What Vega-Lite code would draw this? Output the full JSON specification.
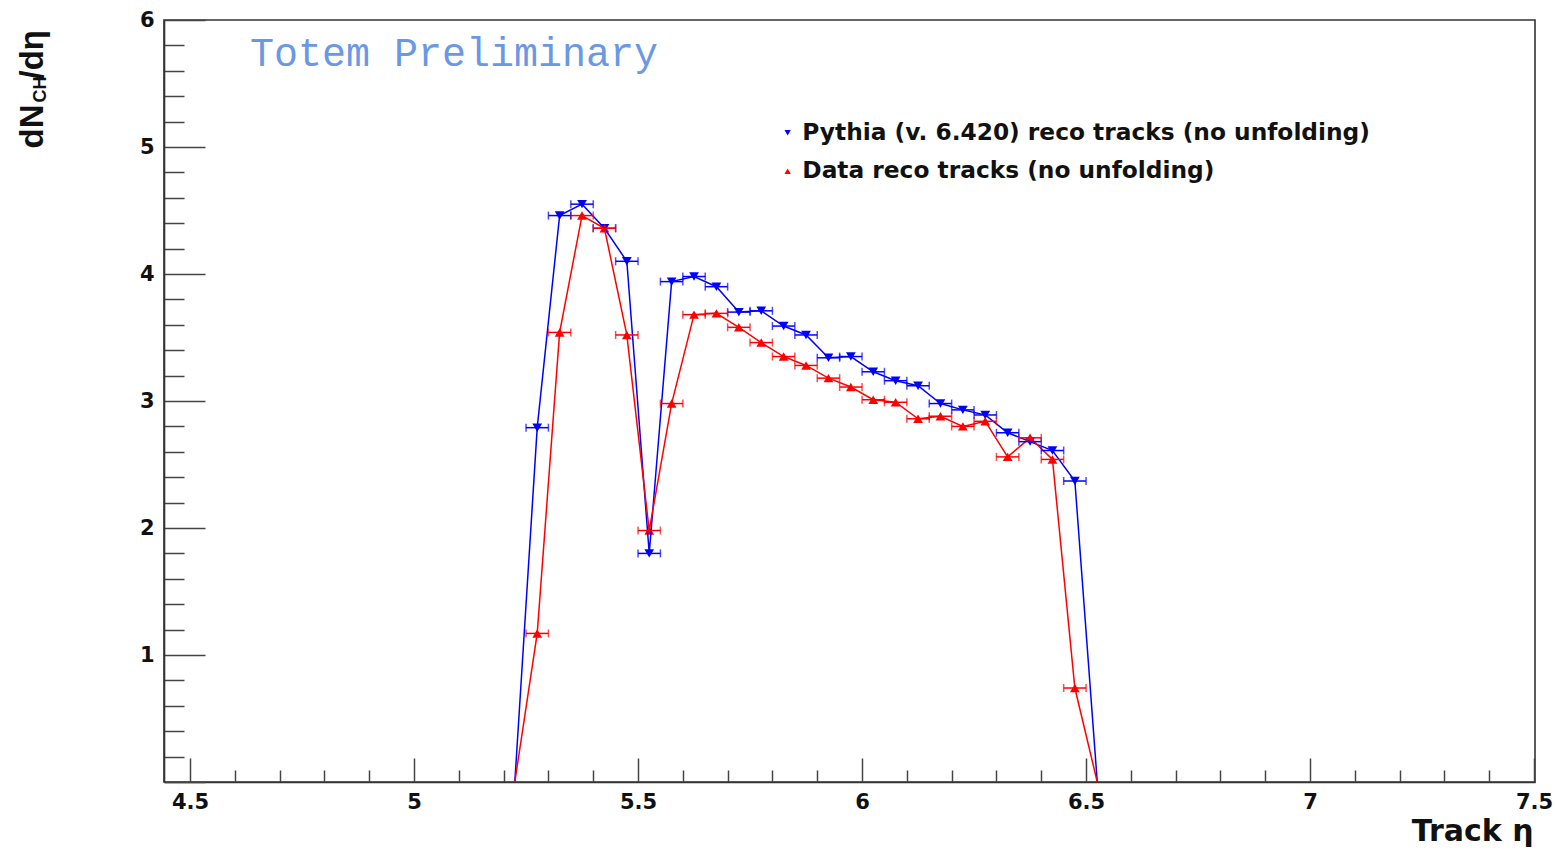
{
  "$schema": "https://vega.github.io/schema/vega-lite/v6.json",
  "width": 1371,
  "height": 762,
  "autosize": "none",
  "padding": {"left": 164, "top": 20, "right": 20, "bottom": 73},
  "background": "white",
  "config": {
    "view": {"stroke": "#333333", "strokeWidth": 1.6},
    "font": "DejaVu Sans",
    "legend": {
      "labelFont": "DejaVu Sans",
      "labelFontWeight": "bold",
      "labelFontSize": 23.3,
      "labelColor": "#111111",
      "labelLimit": 900,
      "labelOffset": 3,
      "rowPadding": 14.5,
      "padding": 0,
      "symbolSize": 40,
      "symbolStrokeWidth": 0
    }
  },
  "title": {
    "text": "Totem Preliminary",
    "anchor": "start",
    "frame": "group",
    "orient": "top",
    "baseline": "alphabetic",
    "offset": -97,
    "dx": 86,
    "font": "Liberation Mono",
    "fontSize": 40,
    "fontWeight": "normal",
    "color": "#6a98e4"
  },
  "data": {
    "values": [
      {"series": "Pythia (v. 6.420) reco tracks (no unfolding)", "eta": 5.225, "lo": 5.2, "hi": 5.25, "v": 0},
      {"series": "Pythia (v. 6.420) reco tracks (no unfolding)", "eta": 5.275, "lo": 5.25, "hi": 5.3, "v": 2.79},
      {"series": "Pythia (v. 6.420) reco tracks (no unfolding)", "eta": 5.325, "lo": 5.3, "hi": 5.35, "v": 4.46},
      {"series": "Pythia (v. 6.420) reco tracks (no unfolding)", "eta": 5.375, "lo": 5.35, "hi": 5.4, "v": 4.55},
      {"series": "Pythia (v. 6.420) reco tracks (no unfolding)", "eta": 5.425, "lo": 5.4, "hi": 5.45, "v": 4.36},
      {"series": "Pythia (v. 6.420) reco tracks (no unfolding)", "eta": 5.475, "lo": 5.45, "hi": 5.5, "v": 4.10},
      {"series": "Pythia (v. 6.420) reco tracks (no unfolding)", "eta": 5.525, "lo": 5.5, "hi": 5.55, "v": 1.80},
      {"series": "Pythia (v. 6.420) reco tracks (no unfolding)", "eta": 5.575, "lo": 5.55, "hi": 5.6, "v": 3.94},
      {"series": "Pythia (v. 6.420) reco tracks (no unfolding)", "eta": 5.625, "lo": 5.6, "hi": 5.65, "v": 3.98},
      {"series": "Pythia (v. 6.420) reco tracks (no unfolding)", "eta": 5.675, "lo": 5.65, "hi": 5.7, "v": 3.90},
      {"series": "Pythia (v. 6.420) reco tracks (no unfolding)", "eta": 5.725, "lo": 5.7, "hi": 5.75, "v": 3.70},
      {"series": "Pythia (v. 6.420) reco tracks (no unfolding)", "eta": 5.775, "lo": 5.75, "hi": 5.8, "v": 3.71},
      {"series": "Pythia (v. 6.420) reco tracks (no unfolding)", "eta": 5.825, "lo": 5.8, "hi": 5.85, "v": 3.59},
      {"series": "Pythia (v. 6.420) reco tracks (no unfolding)", "eta": 5.875, "lo": 5.85, "hi": 5.9, "v": 3.52},
      {"series": "Pythia (v. 6.420) reco tracks (no unfolding)", "eta": 5.925, "lo": 5.9, "hi": 5.95, "v": 3.34},
      {"series": "Pythia (v. 6.420) reco tracks (no unfolding)", "eta": 5.975, "lo": 5.95, "hi": 6.0, "v": 3.35},
      {"series": "Pythia (v. 6.420) reco tracks (no unfolding)", "eta": 6.025, "lo": 6.0, "hi": 6.05, "v": 3.23},
      {"series": "Pythia (v. 6.420) reco tracks (no unfolding)", "eta": 6.075, "lo": 6.05, "hi": 6.1, "v": 3.16},
      {"series": "Pythia (v. 6.420) reco tracks (no unfolding)", "eta": 6.125, "lo": 6.1, "hi": 6.15, "v": 3.12},
      {"series": "Pythia (v. 6.420) reco tracks (no unfolding)", "eta": 6.175, "lo": 6.15, "hi": 6.2, "v": 2.98},
      {"series": "Pythia (v. 6.420) reco tracks (no unfolding)", "eta": 6.225, "lo": 6.2, "hi": 6.25, "v": 2.93},
      {"series": "Pythia (v. 6.420) reco tracks (no unfolding)", "eta": 6.275, "lo": 6.25, "hi": 6.3, "v": 2.89},
      {"series": "Pythia (v. 6.420) reco tracks (no unfolding)", "eta": 6.325, "lo": 6.3, "hi": 6.35, "v": 2.75},
      {"series": "Pythia (v. 6.420) reco tracks (no unfolding)", "eta": 6.375, "lo": 6.35, "hi": 6.4, "v": 2.68},
      {"series": "Pythia (v. 6.420) reco tracks (no unfolding)", "eta": 6.425, "lo": 6.4, "hi": 6.45, "v": 2.61},
      {"series": "Pythia (v. 6.420) reco tracks (no unfolding)", "eta": 6.475, "lo": 6.45, "hi": 6.5, "v": 2.37},
      {"series": "Pythia (v. 6.420) reco tracks (no unfolding)", "eta": 6.525, "lo": 6.5, "hi": 6.55, "v": 0},
      {"series": "Data reco tracks (no unfolding)", "eta": 5.225, "lo": 5.2, "hi": 5.25, "v": 0},
      {"series": "Data reco tracks (no unfolding)", "eta": 5.275, "lo": 5.25, "hi": 5.3, "v": 1.17},
      {"series": "Data reco tracks (no unfolding)", "eta": 5.325, "lo": 5.3, "hi": 5.35, "v": 3.54},
      {"series": "Data reco tracks (no unfolding)", "eta": 5.375, "lo": 5.35, "hi": 5.4, "v": 4.46},
      {"series": "Data reco tracks (no unfolding)", "eta": 5.425, "lo": 5.4, "hi": 5.45, "v": 4.36},
      {"series": "Data reco tracks (no unfolding)", "eta": 5.475, "lo": 5.45, "hi": 5.5, "v": 3.52},
      {"series": "Data reco tracks (no unfolding)", "eta": 5.525, "lo": 5.5, "hi": 5.55, "v": 1.98},
      {"series": "Data reco tracks (no unfolding)", "eta": 5.575, "lo": 5.55, "hi": 5.6, "v": 2.98},
      {"series": "Data reco tracks (no unfolding)", "eta": 5.625, "lo": 5.6, "hi": 5.65, "v": 3.68},
      {"series": "Data reco tracks (no unfolding)", "eta": 5.675, "lo": 5.65, "hi": 5.7, "v": 3.69},
      {"series": "Data reco tracks (no unfolding)", "eta": 5.725, "lo": 5.7, "hi": 5.75, "v": 3.58},
      {"series": "Data reco tracks (no unfolding)", "eta": 5.775, "lo": 5.75, "hi": 5.8, "v": 3.46},
      {"series": "Data reco tracks (no unfolding)", "eta": 5.825, "lo": 5.8, "hi": 5.85, "v": 3.35},
      {"series": "Data reco tracks (no unfolding)", "eta": 5.875, "lo": 5.85, "hi": 5.9, "v": 3.28},
      {"series": "Data reco tracks (no unfolding)", "eta": 5.925, "lo": 5.9, "hi": 5.95, "v": 3.18},
      {"series": "Data reco tracks (no unfolding)", "eta": 5.975, "lo": 5.95, "hi": 6.0, "v": 3.11},
      {"series": "Data reco tracks (no unfolding)", "eta": 6.025, "lo": 6.0, "hi": 6.05, "v": 3.01},
      {"series": "Data reco tracks (no unfolding)", "eta": 6.075, "lo": 6.05, "hi": 6.1, "v": 2.99},
      {"series": "Data reco tracks (no unfolding)", "eta": 6.125, "lo": 6.1, "hi": 6.15, "v": 2.86},
      {"series": "Data reco tracks (no unfolding)", "eta": 6.175, "lo": 6.15, "hi": 6.2, "v": 2.88},
      {"series": "Data reco tracks (no unfolding)", "eta": 6.225, "lo": 6.2, "hi": 6.25, "v": 2.80},
      {"series": "Data reco tracks (no unfolding)", "eta": 6.275, "lo": 6.25, "hi": 6.3, "v": 2.84},
      {"series": "Data reco tracks (no unfolding)", "eta": 6.325, "lo": 6.3, "hi": 6.35, "v": 2.56},
      {"series": "Data reco tracks (no unfolding)", "eta": 6.375, "lo": 6.35, "hi": 6.4, "v": 2.71},
      {"series": "Data reco tracks (no unfolding)", "eta": 6.425, "lo": 6.4, "hi": 6.45, "v": 2.54},
      {"series": "Data reco tracks (no unfolding)", "eta": 6.475, "lo": 6.45, "hi": 6.5, "v": 0.74},
      {"series": "Data reco tracks (no unfolding)", "eta": 6.525, "lo": 6.5, "hi": 6.55, "v": 0}
    ]
  },
  "resolve": {"axis": {"x": "independent", "y": "independent"}},
  "layer": [
    {
      "transform": [{"filter": "datum.v > 0"}],
      "mark": {"type": "point", "filled": true, "size": 95, "opacity": 1},
      "encoding": {
        "x": {"field": "eta", "type": "quantitative", "axis": null},
        "y": {"field": "v", "type": "quantitative", "axis": null},
        "color": {
          "field": "series", "type": "nominal",
          "scale": {"domain": ["Pythia (v. 6.420) reco tracks (no unfolding)", "Data reco tracks (no unfolding)"], "range": ["#0000ff", "#ff0000"]},
          "legend": {"orient": "none", "legendX": 612, "legendY": 101, "title": null}
        },
        "shape": {
          "field": "series", "type": "nominal",
          "scale": {"domain": ["Pythia (v. 6.420) reco tracks (no unfolding)", "Data reco tracks (no unfolding)"], "range": ["triangle-down", "triangle-up"]},
          "legend": {"orient": "none", "legendX": 612, "legendY": 101, "title": null}
        }
      }
    },
    {
      "mark": {"type": "line", "strokeWidth": 1.5},
      "encoding": {
        "x": {
          "field": "eta", "type": "quantitative",
          "scale": {"domain": [4.442, 7.502], "nice": false, "zero": false},
          "axis": {
            "values": [4.5, 4.6, 4.7, 4.8, 4.9, 5.0, 5.1, 5.2, 5.3, 5.4, 5.5, 5.6, 5.7, 5.8, 5.9, 6.0, 6.1, 6.2, 6.3, 6.4, 6.5, 6.6, 6.7, 6.8, 6.9, 7.0, 7.1, 7.2, 7.3, 7.4, 7.5],
            "labelExpr": "(datum.value * 2) % 1 == 0 ? '' + datum.value : ''",
            "tickSize": {"condition": {"test": "(datum.value * 2) % 1 == 0", "value": -24}, "value": -12},
            "tickColor": "#444444",
            "tickWidth": 1.5,
            "domainColor": "#333333",
            "domainWidth": 1.6,
            "grid": false,
            "labelFont": "DejaVu Sans",
            "labelFontWeight": "bold",
            "labelFontSize": 21,
            "labelColor": "#111111",
            "labelBaseline": "top",
            "labelPadding": 33,
            "labelFlush": false,
            "labelOverlap": false,
            "title": "Track η",
            "titleFont": "DejaVu Sans",
            "titleFontWeight": "bold",
            "titleFontSize": 30,
            "titleColor": "#111111",
            "titleAlign": "right",
            "titleAnchor": null,
            "titleBaseline": "alphabetic",
            "titleX": 1369,
            "titleY": 58
          }
        },
        "y": {
          "field": "v", "type": "quantitative",
          "scale": {"domain": [0, 6], "nice": false},
          "axis": {
            "orient": "left",
            "values": [0, 0.2, 0.4, 0.6, 0.8, 1, 1.2, 1.4, 1.6, 1.8, 2, 2.2, 2.4, 2.6, 2.8, 3, 3.2, 3.4, 3.6, 3.8, 4, 4.2, 4.4, 4.6, 4.8, 5, 5.2, 5.4, 5.6, 5.8, 6],
            "labelExpr": "datum.value % 1 == 0 && datum.value > 0 ? '' + datum.value : ''",
            "tickSize": {"condition": {"test": "datum.value % 1 == 0", "value": -41}, "value": -20},
            "tickColor": "#444444",
            "tickWidth": 1.5,
            "domainColor": "#333333",
            "domainWidth": 1.6,
            "grid": false,
            "labelFont": "DejaVu Sans",
            "labelFontWeight": "bold",
            "labelFontSize": 21,
            "labelColor": "#111111",
            "labelPadding": 51,
            "labelFlush": false,
            "labelOverlap": false,
            "title": "dN",
            "titleFont": "Liberation Sans",
            "titleFontWeight": "bold",
            "titleFontSize": 33,
            "titleColor": "#111111",
            "titleAngle": 270,
            "titleAlign": "left",
            "titleAnchor": null,
            "titleBaseline": "alphabetic",
            "titleX": -122,
            "titleY": 128
          }
        },
        "stroke": {
          "field": "series", "type": "nominal",
          "scale": {"domain": ["Pythia (v. 6.420) reco tracks (no unfolding)", "Data reco tracks (no unfolding)"], "range": ["#0000ff", "#ff0000"]},
          "legend": null
        }
      }
    },
    {
      "transform": [{"filter": "datum.v > 0"}],
      "mark": {"type": "rule", "strokeWidth": 1.5},
      "encoding": {
        "x": {"field": "lo", "type": "quantitative", "axis": null},
        "x2": {"field": "hi"},
        "y": {
          "field": "v", "type": "quantitative",
          "axis": {
            "orient": "left", "domain": false, "ticks": false, "labels": false, "grid": false,
            "title": "CH",
            "titleFont": "Liberation Sans",
            "titleFontWeight": "bold",
            "titleFontSize": 18,
            "titleColor": "#111111",
            "titleAngle": 270,
            "titleAlign": "left",
            "titleAnchor": null,
            "titleBaseline": "alphabetic",
            "titleX": -119,
            "titleY": 82
          }
        },
        "stroke": {"field": "series", "type": "nominal", "legend": null}
      }
    },
    {
      "transform": [{"filter": "datum.v > 0"}],
      "mark": {"type": "tick", "orient": "vertical", "size": 8, "thickness": 1.5},
      "encoding": {
        "x": {"field": "lo", "type": "quantitative", "axis": null},
        "y": {
          "field": "v", "type": "quantitative",
          "axis": {
            "orient": "left", "domain": false, "ticks": false, "labels": false, "grid": false,
            "title": "/dη",
            "titleFont": "Liberation Sans",
            "titleFontWeight": "bold",
            "titleFontSize": 33,
            "titleColor": "#111111",
            "titleAngle": 270,
            "titleAlign": "left",
            "titleAnchor": null,
            "titleBaseline": "alphabetic",
            "titleX": -122,
            "titleY": 59
          }
        },
        "fill": {
          "field": "series", "type": "nominal",
          "scale": {"domain": ["Pythia (v. 6.420) reco tracks (no unfolding)", "Data reco tracks (no unfolding)"], "range": ["#0000ff", "#ff0000"]},
          "legend": null
        }
      }
    },
    {
      "transform": [{"filter": "datum.v > 0"}],
      "mark": {"type": "tick", "orient": "vertical", "size": 8, "thickness": 1.5},
      "encoding": {
        "x": {"field": "hi", "type": "quantitative", "axis": null},
        "y": {"field": "v", "type": "quantitative", "axis": null},
        "fill": {"field": "series", "type": "nominal", "legend": null}
      }
    }
  ]
}
